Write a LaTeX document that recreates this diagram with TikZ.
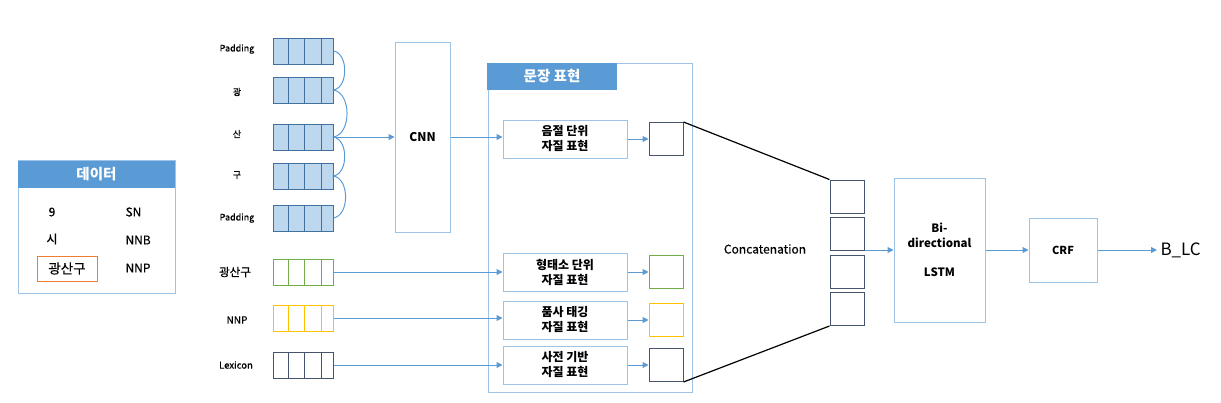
\documentclass[tikz,border=0pt]{standalone}
\usepackage{fontspec}
\setmainfont{Noto Sans CJK KR}
\newfontfamily\medio{Noto Sans CJK KR}[FakeBold=0.6]
\usetikzlibrary{positioning, arrows.meta}

\definecolor{azul}{HTML}{5B9BD5}
\definecolor{celeste}{HTML}{BDD7EE}
\definecolor{borde}{HTML}{9DC3E6}
\definecolor{marino}{HTML}{44546A}
\definecolor{verde}{HTML}{70AD47}
\definecolor{amarillo}{HTML}{FFC000}
\definecolor{naranja}{HTML}{ED7D31}
\definecolor{acero}{HTML}{41719C}

\begin{document}
\begin{tikzpicture}[x=1pt, y=-1pt,
	caja/.style={rectangle, draw=borde, line width=1pt, inner sep=0pt, align=center},
	titulo/.style={rectangle, fill=azul, text=white, inner sep=0pt, font=\fontsize{14.5}{16}\selectfont\bfseries},
	vec/.style={rectangle, draw=#1, line width=1pt, minimum width=60pt, minimum height=26pt, inner sep=0pt,
		path picture={
			\draw[#1, line width=1pt] ([xshift=15pt]path picture bounding box.north west) -- ([xshift=15pt]path picture bounding box.south west);
			\draw[#1, line width=1pt] ([xshift=31pt]path picture bounding box.north west) -- ([xshift=31pt]path picture bounding box.south west);
			\draw[#1, line width=1pt] ([xshift=48pt]path picture bounding box.north west) -- ([xshift=48pt]path picture bounding box.south west);
		}},
	salida/.style={rectangle, draw=#1, line width=1pt, minimum width=34pt, minimum height=33pt, inner sep=0pt},
	rasgo/.style={caja, minimum width=124pt, minimum height=38pt, font=\fontsize{12}{15}\selectfont\bfseries},
	etiq/.style={font=\fontsize{9}{11}\selectfont\medio},
	flecha/.style={azul, line width=1pt, -{Triangle[length=6pt, width=6pt]}}]
				
				\useasboundingbox (0,0) rectangle (1221,402);
				
				% datos
				\node [caja, minimum width=157pt, minimum height=133pt] (datos) at (96.5,226.5) {};
				\node [titulo, minimum width=157pt, minimum height=27pt] (datosh) at (96.5,174.5) {데이터};
				\begin{scope}[every node/.style={font=\fontsize{12}{14}\selectfont\medio}]
				\node (d1) at (52,212) {9};
				\node (d2) at (52,239) {시};
				\node [draw=naranja, line width=1pt, minimum width=60pt, minimum height=25pt, inner sep=0pt, font=\fontsize{13.5}{14}\selectfont\medio] (d3) at (67,268.5) {광산구};
				\node [anchor=west] (e1) at (122,212) {SN};
				\node [anchor=west] (e2) at (122,240) {NNB};
				\node [anchor=west] (e3) at (122,268) {NNP};
				\end{scope}
				
				% vectores
				\node [vec=acero, fill=celeste] (v1) at (303,51) {};
				\node [vec=acero, fill=celeste] (v2) at (303,90) {};
				\node [vec=acero, fill=celeste] (v3) at (303,137) {};
				\node [vec=acero, fill=celeste] (v4) at (303,176) {};
				\node [vec=acero, fill=celeste] (v5) at (303,218) {};
				\node [vec=verde] (v6) at (303,272) {};
				\node [vec=amarillo] (v7) at (303,318) {};
				\node [vec=marino] (v8) at (303,365) {};
				
				\node [etiq] (l1) at (237,49) {Padding};
				\node [etiq] (l2) at (237,92) {광};
				\node [etiq] (l3) at (237,134) {산};
				\node [etiq] (l4) at (237,175) {구};
				\node [etiq] (l5) at (237,218) {Padding};
				\node [etiq, font=\fontsize{11.5}{13}\selectfont\medio] (l6) at (235,272) {광산구};
				\node [etiq, font=\fontsize{10}{12}\selectfont\medio] (l7) at (237,320) {NNP};
				\node [etiq, font=\fontsize{9.5}{11}\selectfont\medio] (l8) at (236,365) {Lexicon};
				
				% CNN
				\node [caja, minimum width=55pt, minimum height=190pt, font=\fontsize{12}{14}\selectfont\bfseries] (cnn) at (422.5,137) {CNN};
				
				% representacion de la oracion
				\node [caja, minimum width=204pt, minimum height=329pt] (sent) at (590,227.5) {};
				\node [titulo, minimum width=130pt, minimum height=27pt] (senth) at (552,76.5) {문장 표현};
				\node [rasgo] (syl) at (565,139) {음절 단위\\자질 표현};
				\node [rasgo] (morf) at (565,272) {형태소 단위\\자질 표현};
				\node [rasgo] (pos) at (565,320) {품사 태깅\\자질 표현};
				\node [rasgo] (lex) at (565,365) {사전 기반\\자질 표현};
				\node [salida=marino] (o1) [right=21pt of syl] {};
				\node [salida=verde] (o2) [right=21pt of morf] {};
				\node [salida=amarillo] (o3) [right=21pt of pos] {};
				\node [salida=marino] (o4) [right=21pt of lex] {};
				
				% concatenacion
				\node [salida=marino] (c1) at (847,196.5) {};
				\node [salida=marino] (c2) [below=3.5pt of c1] {};
				\node [salida=marino] (c3) [below=3.5pt of c2] {};
				\node [salida=marino] (c4) [below=3.5pt of c3] {};
				\node [font=\fontsize{12}{14}\selectfont\medio] (conc) at (765,249) {Concatenation};
				
				% BiLSTM, CRF
				\node [caja, minimum width=91pt, minimum height=144pt, font=\fontsize{11.5}{15}\selectfont\bfseries] (lstm) at (939.5,250) {Bi-\\directional\\[14pt]LSTM};
				\node [caja, minimum width=68pt, minimum height=64pt, font=\fontsize{11}{13}\selectfont\bfseries] (crf) [right=43pt of lstm] {CRF};
				\node [font=\fontsize{17}{19}\selectfont, anchor=west] (blc) at (1157,250) {B\_LC};
				
				% conexiones
				\draw [azul, line width=1pt] (v1.east) to[out=-10, in=10] (v2.east) to[out=-10, in=10] (v3.east)
					to[out=-10, in=10] (v4.east) to[out=-10, in=10] (v5.east);
				\draw [flecha] (v3.east) -- (cnn.west);
				\draw [flecha] (cnn.west -| cnn.east) -- (syl.west |- cnn.west);
				\draw [flecha] (v6.east) -- (morf.west |- v6.east);
				\draw [flecha] (v7.east) -- (pos.west |- v7.east);
				\draw [flecha] (v8.east) -- (lex.west |- v8.east);
				\draw [flecha] (syl) -- (o1);
				\draw [flecha] (morf) -- (o2);
				\draw [flecha] (pos) -- (o3);
				\draw [flecha] (lex) -- (o4);
				\draw [line width=1.2pt] (o1.north east) -- (c1.north west);
				\draw [line width=1.2pt] (o4.south east) -- (c4.south west);
				\draw [flecha] (lstm.west -| c2.east) -- (lstm.west);
				\draw [flecha] (lstm) -- (crf);
				\draw [flecha] (crf) -- (blc);
				\end{tikzpicture}
\end{document}
